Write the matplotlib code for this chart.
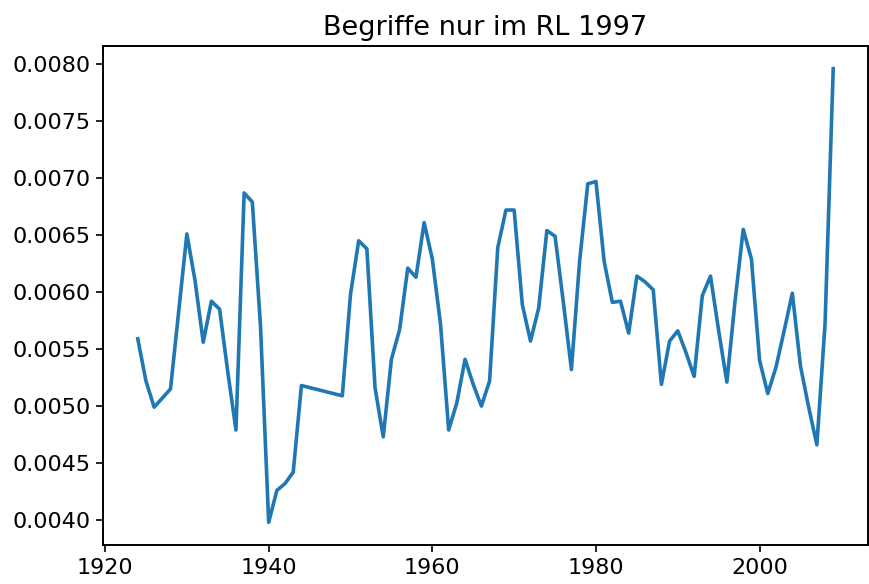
import matplotlib
matplotlib.use("Agg")
import matplotlib.pyplot as plt

# Jahre und relative Haeufigkeit
years = [1924, 1925, 1926, 1928, 1930, 1931, 1932, 1933, 1934, 1935, 1936, 1937,
         1938, 1939, 1940, 1941, 1942, 1943, 1944, 1949, 1950, 1951, 1952, 1953,
         1954, 1955, 1956, 1957, 1958, 1959, 1960, 1961, 1962, 1963, 1964, 1965,
         1966, 1967, 1968, 1969, 1970, 1971, 1972, 1973, 1974, 1975, 1976, 1977,
         1978, 1979, 1980, 1981, 1982, 1983, 1984, 1985, 1986, 1987, 1988, 1989,
         1990, 1991, 1992, 1993, 1994, 1995, 1996, 1997, 1998, 1999, 2000, 2001,
         2002, 2003, 2004, 2005, 2006, 2007, 2008, 2009]
values = [0.00559, 0.00522, 0.00499, 0.00515, 0.00651, 0.00610, 0.00556, 0.00592,
          0.00585, 0.00530, 0.00479, 0.00687, 0.00679, 0.00570, 0.00398, 0.00426,
          0.00432, 0.00442, 0.00518, 0.00509, 0.00598, 0.00645, 0.00638, 0.00516,
          0.00473, 0.00541, 0.00567, 0.00621, 0.00613, 0.00661, 0.00629, 0.00572,
          0.00479, 0.00503, 0.00541, 0.00519, 0.00500, 0.00522, 0.00639, 0.00672,
          0.00672, 0.00589, 0.00557, 0.00586, 0.00654, 0.00649, 0.00592, 0.00532,
          0.00627, 0.00695, 0.00697, 0.00627, 0.00591, 0.00592, 0.00564, 0.00614,
          0.00609, 0.00602, 0.00519, 0.00557, 0.00566, 0.00547, 0.00526, 0.00597,
          0.00614, 0.00566, 0.00521, 0.00592, 0.00655, 0.00629, 0.00540, 0.00511,
          0.00534, 0.00566, 0.00599, 0.00535, 0.00499, 0.00466, 0.00572, 0.00796]

title = "Begriffe nur im RL 1997"

fig = plt.figure(figsize=(8.7, 5.84), dpi=100)
ax = fig.add_axes([103 / 870, 1 - 545 / 584, (868 - 103) / 870, (545 - 46) / 584])

ax.plot(years, values, color="#1f77b4", linewidth=2.6)
ax.set_title(title, fontsize=19.5, pad=8)

ax.set_xticks([1920, 1940, 1960, 1980, 2000])
ax.set_yticks([0.0040, 0.0045, 0.0050, 0.0055, 0.0060, 0.0065, 0.0070, 0.0075, 0.0080])
ax.set_yticklabels(["%.4f" % t for t in ax.get_yticks()])
ax.tick_params(labelsize=16, length=5, width=1.2, pad=4)
for s in ax.spines.values():
    s.set_linewidth(1.4)

fig.savefig("out.png", dpi=100)
